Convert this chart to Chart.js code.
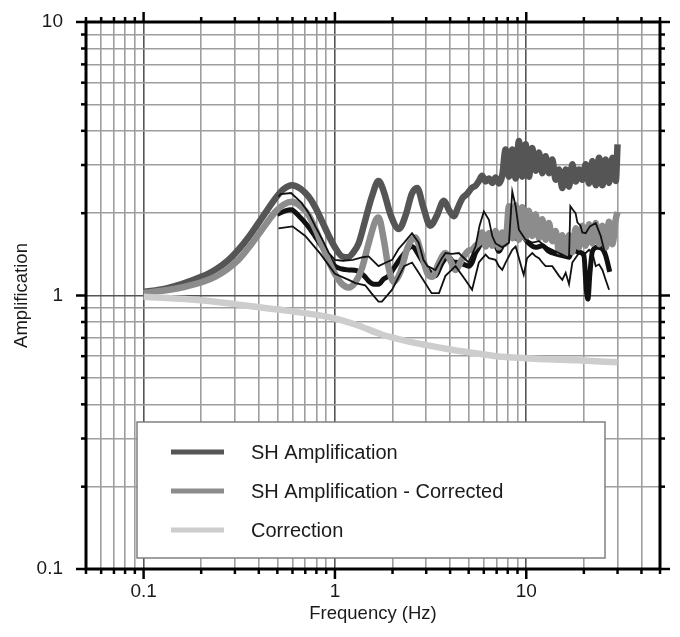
<!DOCTYPE html>
<html>
<head>
<meta charset="utf-8">
<title>SH Amplification</title>
<script src="https://cdn.jsdelivr.net/npm/chart.js@4.4.1/dist/chart.umd.min.js"></script>
<style>
  html, body { margin: 0; padding: 0; background: #fff; }
  #wrap { width: 680px; height: 637px; position: relative; }
</style>
</head>
<body>
<div id="wrap"><canvas id="ampChart"></canvas></div>
<script>
/* ---- data ---- */

// SH Amplification (theoretical)
const shFreq = [0.1, 0.13, 0.158, 0.2, 0.236, 0.275, 0.313, 0.355, 0.398, 0.44, 0.487, 0.54, 0.596, 0.66, 0.728, 0.79, 0.855, 0.93, 1.0, 1.09, 1.17, 1.25, 1.33, 1.45, 1.56, 1.69, 1.8, 1.95, 2.16, 2.35, 2.52, 2.69, 2.9, 3.15, 3.4, 3.71, 3.95, 4.18, 4.4, 4.62, 4.9, 5.21,
  5.43, 5.65, 5.88, 6.13, 6.38, 6.64, 6.91, 7.19, 7.49, 7.8, 8.12, 8.45, 8.8, 9.15, 9.53, 9.92, 10.33, 10.75, 11.19, 11.65, 12.13, 12.62, 13.14, 13.68, 14.24, 14.83, 15.43, 16.07, 16.73, 17.41, 18.13, 18.87, 19.64, 20.45, 21.29, 22.16, 23.07, 24.01, 25.0, 26.02, 27.09, 28.2, 29.36, 30.0];
const shAmp = [1.03, 1.06, 1.10, 1.17, 1.24, 1.34, 1.47, 1.64, 1.84, 2.04, 2.26, 2.45, 2.53, 2.46, 2.30, 2.10, 1.87, 1.65, 1.50, 1.39, 1.38, 1.44, 1.55, 1.92, 2.30, 2.62, 2.40, 1.98, 1.75, 1.98, 2.35, 2.47, 2.10, 1.80, 1.95, 2.22, 2.05, 1.95, 2.10, 2.26, 2.35, 2.48,
  2.52, 2.62, 2.74, 2.61, 2.68, 2.58, 2.70, 2.57, 2.75, 3.42, 2.72, 3.42, 2.68, 3.67, 2.72, 3.57, 2.72, 3.46, 2.86, 3.33, 2.80, 3.23, 2.80, 3.14, 2.65, 2.89, 2.47, 2.89, 2.50, 3.02, 2.61, 2.89, 2.65, 3.02, 2.57, 3.10, 2.53, 3.19, 2.53, 3.14, 2.58, 3.19, 2.62, 3.57];

// SH Amplification - Corrected
const corrFreq = [0.1, 0.158, 0.236, 0.313, 0.355, 0.398, 0.44, 0.487, 0.54, 0.596, 0.66, 0.728, 0.79, 0.855, 0.93, 1.0, 1.09, 1.18, 1.28, 1.38, 1.5, 1.63, 1.69, 1.8, 1.9, 2.03, 2.2, 2.4, 2.63, 2.85, 3.05, 3.22, 3.5, 3.78, 4.0, 4.27, 4.6, 5.0,
  5.21, 5.43, 5.65, 5.88, 6.13, 6.38, 6.64, 6.91, 7.19, 7.49, 7.8, 8.12, 8.45, 8.8, 9.15, 9.53, 9.92, 10.33, 10.75, 11.19, 11.65, 12.13, 12.62, 13.14, 13.68, 14.24, 14.83, 15.43, 16.07, 16.73, 17.41, 18.13, 18.87, 19.64, 20.45, 21.29, 22.16, 23.07, 24.01, 25.0, 26.02, 27.09, 28.2, 29.36, 30.0];
const corrAmp = [1.02, 1.07, 1.17, 1.35, 1.50, 1.67, 1.84, 2.02, 2.15, 2.20, 2.12, 1.97, 1.75, 1.53, 1.33, 1.20, 1.10, 1.07, 1.12, 1.25, 1.55, 1.88, 1.93, 1.60, 1.28, 1.12, 1.22, 1.50, 1.63, 1.40, 1.20, 1.17, 1.32, 1.43, 1.35, 1.24, 1.35, 1.46,
  1.47, 1.52, 1.56, 1.70, 1.51, 1.69, 1.52, 1.72, 1.50, 1.70, 1.55, 2.12, 1.62, 2.14, 1.60, 2.10, 1.62, 2.04, 1.65, 1.98, 1.62, 1.90, 1.60, 1.84, 1.58, 1.72, 1.45, 1.66, 1.42, 1.66, 1.44, 1.76, 1.50, 1.80, 1.52, 1.82, 1.55, 1.84, 1.54, 1.80, 1.50, 1.86, 1.54, 1.90, 2.02];

// Correction
const fixFreq = [0.1, 0.2, 0.3, 0.43, 0.6, 0.96, 1.3, 1.76, 2.2, 2.97, 4.0, 5.0, 7.0, 9.9, 14.0, 19.6, 30.0];
const fixAmp = [0.99, 0.96, 0.93, 0.90, 0.875, 0.83, 0.78, 0.72, 0.69, 0.66, 0.635, 0.62, 0.60, 0.59, 0.583, 0.578, 0.57];

// observed mean (thick black) and +/- one sigma (thin black)
const meanFreq = [0.5, 0.55, 0.59, 0.65, 0.72, 0.79, 0.86, 0.93, 1.0, 1.09, 1.18, 1.31, 1.42, 1.5, 1.6, 1.69, 1.8, 1.91, 2.05, 2.24, 2.53, 2.75, 2.97, 3.2, 3.35, 3.6, 3.9, 4.15, 4.4, 4.7, 5.0, 5.21, 5.43, 5.65, 5.88, 6.25, 6.64, 7.0, 7.19, 7.5, 7.8, 8.28, 8.8, 9.2, 9.53, 10.33, 11.19, 12.13, 13.14, 14.24, 15.43, 16.73, 17.41, 18.87, 20.0, 20.6, 21.0, 21.5, 22.16, 23.5, 25.0, 26.0, 27.3];
const meanAmp = [1.98, 2.04, 2.06, 1.95, 1.80, 1.64, 1.50, 1.38, 1.28, 1.25, 1.24, 1.23, 1.18, 1.13, 1.10, 1.10, 1.15, 1.18, 1.27, 1.39, 1.51, 1.40, 1.28, 1.20, 1.18, 1.30, 1.39, 1.33, 1.32, 1.30, 1.28, 1.32, 1.43, 1.50, 1.58, 1.55, 1.55, 1.50, 1.45, 1.52, 1.60, 1.68, 1.62, 1.70, 1.66, 1.55, 1.50, 1.52, 1.45, 1.42, 1.40, 1.38, 1.47, 1.44, 1.40, 1.05, 0.97, 1.20, 1.45, 1.50, 1.48, 1.40, 1.22];

const upperFreq = [0.507, 0.52, 0.59, 0.67, 0.73, 0.79, 0.86, 0.93, 1.0, 1.1, 1.24, 1.4, 1.5, 1.69, 1.85, 1.99, 2.15, 2.3, 2.53, 2.74, 2.9, 3.05, 3.35, 3.6, 3.78, 4.1, 4.44, 5.0, 5.43, 5.7, 6.0, 6.38, 6.64, 6.91, 7.5, 8.12, 8.45, 8.8, 9.15, 9.92, 10.75, 11.65, 12.62, 13.68, 14.83, 16.07, 16.73, 17.0, 17.6, 18.1, 18.5, 19.2, 19.64, 20.45, 21.5, 23.07, 24.5, 26.02, 27.09, 27.6];
const upperAmp = [2.30, 2.35, 2.37, 2.18, 2.00, 1.79, 1.60, 1.43, 1.35, 1.34, 1.35, 1.38, 1.39, 1.28, 1.32, 1.35, 1.48, 1.56, 1.69, 1.56, 1.35, 1.28, 1.24, 1.36, 1.43, 1.42, 1.43, 1.32, 1.51, 1.80, 2.03, 1.89, 1.65, 1.55, 1.50, 1.56, 2.40, 2.12, 1.74, 1.60, 1.56, 1.58, 1.51, 1.47, 1.43, 1.39, 1.37, 2.12, 2.05, 2.00, 1.85, 1.80, 1.70, 1.69, 1.79, 1.84, 1.65, 1.39, 1.28, 1.24];

const lowerFreq = [0.507, 0.6, 0.7, 0.84, 1.0, 1.18, 1.28, 1.44, 1.55, 1.69, 1.76, 1.99, 2.3, 2.53, 2.74, 3.2, 3.5, 3.78, 4.27, 4.81, 5.21, 5.65, 6.13, 6.38, 6.91, 7.19, 7.49, 7.8, 8.45, 8.8, 9.15, 9.53, 9.7, 10.1, 10.75, 11.19, 11.65, 12.13, 12.62, 13.68, 14.83, 15.43, 16.07, 16.73, 17.41, 18.87, 20.45, 21.29, 22.16, 23.07, 24.01, 25.0, 26.02, 27.09];
const lowerAmp = [1.76, 1.79, 1.65, 1.42, 1.20, 1.14, 1.11, 1.09, 1.02, 0.95, 0.95, 1.05, 1.28, 1.32, 1.21, 1.02, 1.02, 1.18, 1.28, 1.14, 1.05, 1.32, 1.41, 1.37, 1.35, 1.28, 1.24, 1.32, 1.47, 1.51, 1.37, 1.24, 1.19, 1.37, 1.43, 1.39, 1.37, 1.32, 1.28, 1.28, 1.18, 1.14, 1.21, 1.10, 1.32, 1.43, 1.43, 1.47, 1.43, 1.28, 1.30, 1.24, 1.14, 1.05];

// axis ticks
const freqTicks = [0.05, 0.06, 0.07, 0.08, 0.09, 0.1, 0.2, 0.3, 0.4, 0.5, 0.6, 0.7, 0.8, 0.9, 1, 2, 3, 4, 5, 6, 7, 8, 9, 10, 20, 30, 40, 50];
const ampTicks = [0.1, 0.2, 0.3, 0.4, 0.5, 0.6, 0.7, 0.8, 0.9, 1, 2, 3, 4, 5, 6, 7, 8, 9, 10];
const freqMajor = [0.1, 1, 10];
const freqLabels = ['0.1', '1', '10'];
const ampMajor = [0.1, 1, 10];
const ampLabels = ['0.1', '1', '10'];

const FONT = "'Liberation Sans', Arial, Helvetica, sans-serif";
const INK = '#1a1a1a';

const pts = (xs, ys) => xs.map((x, i) => ({ x, y: ys[i] }));
const labelFor = (majors, labels, v) => {
  const i = majors.indexOf(v);
  return i >= 0 ? labels[i] : '';
};

// legend box inside the plot
const boxLegend = {
  id: 'boxLegend',
  afterDatasetsDraw(chart) {
    const ctx = chart.ctx;
    const bx = 137, by = 422, bw = 468, bh = 136;
    ctx.save();
    ctx.fillStyle = '#fff';
    ctx.fillRect(bx, by, bw, bh);
    ctx.strokeStyle = '#808080';
    ctx.lineWidth = 1.5;
    ctx.strokeRect(bx, by, bw, bh);
    const rows = chart.data.datasets.filter(d => d.inLegend);
    rows.forEach((d, i) => {
      const ly = by + 30 + i * 39;
      ctx.strokeStyle = d.borderColor;
      ctx.lineWidth = 5;
      ctx.beginPath();
      ctx.moveTo(bx + 34, ly);
      ctx.lineTo(bx + 87, ly);
      ctx.stroke();
      ctx.fillStyle = INK;
      ctx.font = '20px ' + FONT;
      ctx.textBaseline = 'middle';
      ctx.fillText(d.label, bx + 114, ly + 1);
    });
    ctx.restore();
  }
};

// heavy frame with outward ticks on all four sides
const frameTicks = {
  id: 'frameTicks',
  afterDraw(chart) {
    const { ctx, chartArea: { left, right, top, bottom }, scales: { x, y } } = chart;
    ctx.save();
    ctx.strokeStyle = '#000';
    ctx.lineWidth = 2.5;
    const seg = (x1, y1, x2, y2) => { ctx.beginPath(); ctx.moveTo(x1, y1); ctx.lineTo(x2, y2); ctx.stroke(); };
    freqTicks.forEach(v => {
      const px = x.getPixelForValue(v);
      const len = freqMajor.includes(v) ? 10 : 5;
      seg(px, bottom, px, bottom + len);
      seg(px, top, px, top - len);
    });
    ampTicks.forEach(v => {
      const py = y.getPixelForValue(v);
      const len = ampMajor.includes(v) ? 10 : 5;
      seg(left, py, left - len, py);
      seg(right, py, right + len, py);
    });
    ctx.lineWidth = 3;
    ctx.strokeRect(left, top, right - left, bottom - top);
    ctx.restore();
  }
};

new Chart(document.getElementById('ampChart'), {
  type: 'line',
  data: {
    datasets: [
      { label: 'SH Amplification', data: pts(shFreq, shAmp), borderColor: '#555555', borderWidth: 6.5, order: 5, inLegend: true, cubicInterpolationMode: 'monotone' },
      { label: 'mean', data: pts(meanFreq, meanAmp), borderColor: '#111111', borderWidth: 5, order: 4, cubicInterpolationMode: 'monotone' },
      { label: 'SH Amplification - Corrected', data: pts(corrFreq, corrAmp), borderColor: '#8c8c8c', borderWidth: 6.5, order: 3, inLegend: true, cubicInterpolationMode: 'monotone' },
      { label: 'Correction', data: pts(fixFreq, fixAmp), borderColor: '#cdcdcd', borderWidth: 6.5, order: 2, inLegend: true, cubicInterpolationMode: 'monotone' },
      { label: 'upper', data: pts(upperFreq, upperAmp), borderColor: '#111111', borderWidth: 1.8, order: 1, tension: 0 },
      { label: 'lower', data: pts(lowerFreq, lowerAmp), borderColor: '#111111', borderWidth: 1.8, order: 1, tension: 0 }
    ]
  },
  options: {
    responsive: true,
    maintainAspectRatio: false,
    animation: false,
    events: [],
    devicePixelRatio: 1,
    layout: { padding: { top: 22, right: 20, left: 0, bottom: 0 } },
    elements: { point: { radius: 0 }, line: { fill: false, borderCapStyle: 'butt', borderJoinStyle: 'miter' } },
    plugins: { legend: { display: false }, tooltip: { enabled: false } },
    scales: {
      x: {
        type: 'logarithmic',
        min: 0.05,
        max: 50,
        afterBuildTicks: ax => { ax.ticks = freqTicks.map(v => ({ value: v })); },
        afterFit: ax => { ax.height = 68; ax.paddingLeft = 0; ax.paddingRight = 0; },
        border: { display: false },
        grid: {
          drawTicks: false,
          lineWidth: 1.6,
          color: c => freqMajor.includes(c.tick && c.tick.value) ? '#555555' : '#9e9e9e'
        },
        ticks: {
          autoSkip: false, maxRotation: 0, padding: 11, color: INK,
          font: { family: FONT, size: 19 },
          callback: v => labelFor(freqMajor, freqLabels, v)
        },
        title: { display: true, text: 'Frequency (Hz)', color: INK, font: { family: FONT, size: 18.5 }, padding: { top: 0, bottom: 12 } }
      },
      y: {
        type: 'logarithmic',
        min: 0.1,
        max: 10,
        afterBuildTicks: ax => { ax.ticks = ampTicks.map(v => ({ value: v })); },
        afterFit: ax => { ax.width = 86; ax.paddingTop = 0; ax.paddingBottom = 0; },
        border: { display: false },
        grid: {
          drawTicks: false,
          lineWidth: 1.6,
          color: c => ampMajor.includes(c.tick && c.tick.value) ? '#555555' : '#9e9e9e'
        },
        ticks: {
          autoSkip: false, padding: 23, color: INK,
          font: { family: FONT, size: 19 },
          callback: v => labelFor(ampMajor, ampLabels, v)
        },
        title: { display: true, text: 'Amplification', color: INK, font: { family: FONT, size: 18.5 }, padding: { top: 11, bottom: 0 } }
      }
    }
  },
  plugins: [boxLegend, frameTicks]
});
</script>
</body>
</html>
